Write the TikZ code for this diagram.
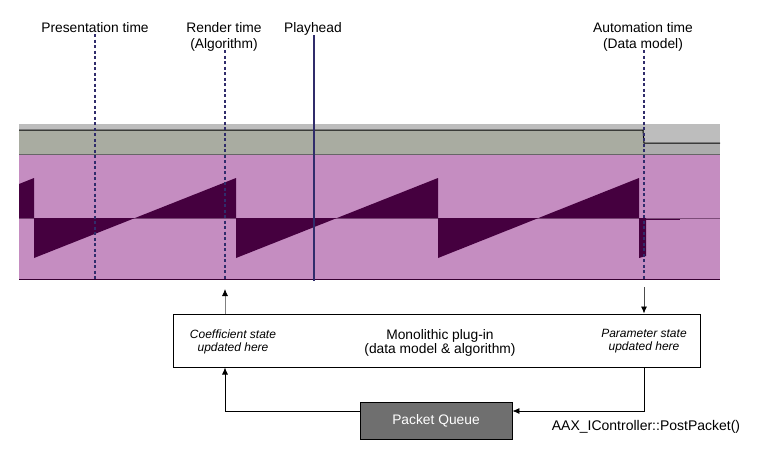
\documentclass[tikz,border=0pt]{standalone}
\usepackage{fontspec}
\setmainfont{Liberation Sans}
\usetikzlibrary{arrows.meta}
\definecolor{lanegreen}{HTML}{A9ACA1}
\definecolor{lanelight}{HTML}{BDBDBD}
\definecolor{laneright}{HTML}{ADADAD}
\definecolor{trackpink}{HTML}{C58DC1}
\definecolor{wavedark}{HTML}{45003F}
\definecolor{marker}{HTML}{302C6B}
\definecolor{queuegray}{HTML}{6F6F6F}

\begin{document}
\begin{tikzpicture}[x=1pt, y=-1pt,
  timeline/.style={marker, line width=1.6pt, dash pattern=on 3pt off 2.5pt},
  toplabel/.style={anchor=base, inner sep=0pt, font=\fontsize{13.8}{16}\selectfont},
  boxtext/.style={anchor=base, inner sep=0pt, font=\fontsize{13.8}{16}\selectfont},
  note/.style={anchor=base, inner sep=0pt, font=\fontsize{12}{14}\selectfont\itshape},
  arr/.style={-{Latex[length=7pt, width=6pt, color=black]}, line width=0.8pt}]
  \useasboundingbox (0,0) rectangle (758,459);

  % automation lane
  \fill[lanelight] (19,124) rectangle (720,155);
  \fill[lanegreen] (19,130) rectangle (644,155);
  \fill[laneright] (644,143) rectangle (720,155);
  \draw[line width=1pt] (19,130) -- (643,130) -- (644,143) -- (720,143);
  \draw[gray!80!black, line width=0.8pt] (19,154.5) -- (720,154.5);

  % audio track with the sawtooth
  \fill[trackpink] (19,155) rectangle (720,279);
  \draw[wavedark!70, line width=0.7pt] (19,218) -- (720,218);
  \fill[wavedark] (19,218) -- (19,184) -- (34,178) -- (34,258) -- (236,178)
    -- (236,258) -- (438,178) -- (438,258) -- (639,178) -- (639,258)
    -- (646,256) -- (646,218) -- cycle;
  \draw[wavedark, line width=1.2pt] (646,219.5) -- (680,219.5);
  \draw[wavedark!80!black, line width=1pt] (19,279) -- (720,279);

  % time markers
  \draw[timeline] (95,34) -- (95,279);
  \draw[timeline] (225,50) -- (225,279);
  \draw[timeline] (644,50) -- (644,279);
  \draw[marker, line width=1.5pt] (314,35) -- (314,281);

  \node[toplabel] (prestime) at (95,32) {Presentation time};
  \node[toplabel] (rendertime) at (224,32) {Render time};
  \node[toplabel] (renderalg) at (224,48) {(Algorithm)};
  \node[toplabel] (playhead) at (313,32) {Playhead};
  \node[toplabel] (autotime) at (643,32) {Automation time};
  \node[toplabel] (autodata) at (643,48) {(Data model)};

  % plug-in and packet queue
  \node[draw, line width=1pt, minimum width=527pt, minimum height=53pt,
    inner sep=0pt] (plugin) at (436.5,340.5) {};
  \node[note] (coefstate) at (233,338) {Coefficient state};
  \node[note] (coefhere) at (233,351) {updated here};
  \node[boxtext] (monolithic) at (440,339) {Monolithic plug-in};
  \node[boxtext] (datamodel) at (440,353) {(data model \& algorithm)};
  \node[note] (paramstate) at (644,337.5) {Parameter state};
  \node[note] (paramhere) at (644,350.5) {updated here};

  \node[draw, line width=0.8pt, fill=queuegray, text=white, minimum width=152pt,
    minimum height=37pt, inner sep=0pt, font=\fontsize{13.8}{16}\selectfont]
    (queue) at (436,420.5) {Packet Queue};
  \node[anchor=base, inner sep=0pt, font=\fontsize{14}{16}\selectfont]
    (postpacket) at (646,430.5) {AAX\_IController::PostPacket()};

  % connectors
  \coordinate (coefup) at (225,289);
  \coordinate (paramdown) at (644,287);
  \coordinate (postbend) at (644,411);
  \coordinate (queuebend) at (225,411);
  \draw[arr, gray] (plugin.north -| coefup) -- (coefup);
  \draw[arr, black!70] (paramdown) -- (plugin.north -| paramdown);
  \draw[arr] (plugin.south -| postbend) -- (postbend) -- (queue.east |- postbend);
  \draw[arr] (queue.west |- queuebend) -- (queuebend) -- (plugin.south -| queuebend);
\end{tikzpicture}
\end{document}
